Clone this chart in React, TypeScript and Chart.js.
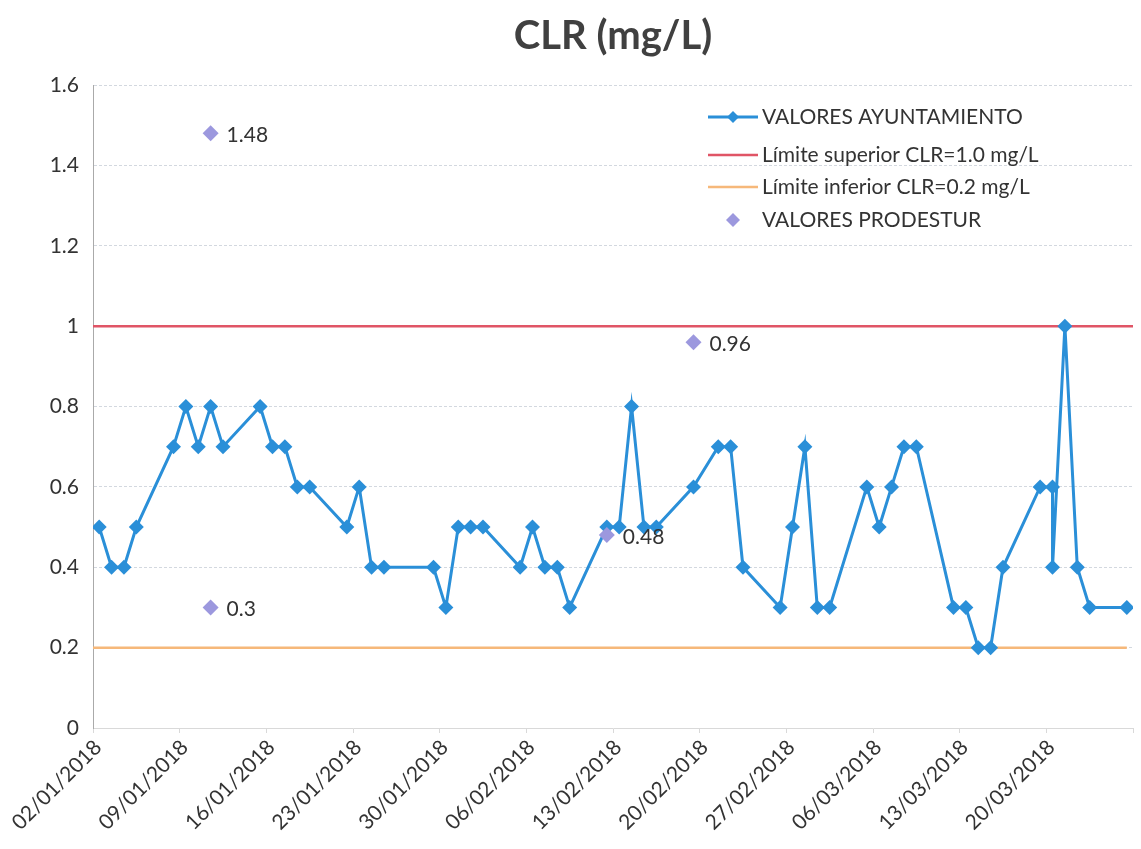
import React, { useEffect, useRef } from "react";
import { Chart, registerables } from "chart.js";

Chart.register(...registerables);

const START_DATE = "02/01/2018";
const AXIS_DAYS = 84;
const TICK_STEP = 7;

const aytoDates = [
  "02/01/2018", "03/01/2018", "04/01/2018", "05/01/2018", "08/01/2018", "09/01/2018",
  "10/01/2018", "11/01/2018", "12/01/2018", "15/01/2018", "16/01/2018", "17/01/2018",
  "18/01/2018", "19/01/2018", "22/01/2018", "23/01/2018", "24/01/2018", "25/01/2018",
  "29/01/2018", "30/01/2018", "31/01/2018", "01/02/2018", "02/02/2018", "05/02/2018",
  "06/02/2018", "07/02/2018", "08/02/2018", "09/02/2018", "12/02/2018", "13/02/2018",
  "14/02/2018", "15/02/2018", "16/02/2018", "19/02/2018", "21/02/2018", "22/02/2018",
  "23/02/2018", "26/02/2018", "27/02/2018", "28/02/2018", "01/03/2018", "02/03/2018",
  "05/03/2018", "06/03/2018", "07/03/2018", "08/03/2018", "09/03/2018", "12/03/2018",
  "13/03/2018", "14/03/2018", "15/03/2018", "16/03/2018", "19/03/2018", "20/03/2018",
  "20/03/2018", "21/03/2018", "22/03/2018", "23/03/2018", "26/03/2018",
];
const aytoValues = [
  0.5, 0.4, 0.4, 0.5, 0.7, 0.8,
  0.7, 0.8, 0.7, 0.8, 0.7, 0.7,
  0.6, 0.6, 0.5, 0.6, 0.4, 0.4,
  0.4, 0.3, 0.5, 0.5, 0.5, 0.4,
  0.5, 0.4, 0.4, 0.3, 0.5, 0.5,
  0.8, 0.5, 0.5, 0.6, 0.7, 0.7,
  0.4, 0.3, 0.5, 0.7, 0.3, 0.3,
  0.6, 0.5, 0.6, 0.7, 0.7, 0.3,
  0.3, 0.2, 0.2, 0.4, 0.6, 0.6,
  0.4, 1.0, 0.4, 0.3, 0.3,
];

const prodesturDates = ["11/01/2018", "11/01/2018", "12/02/2018", "19/02/2018"];
const prodesturValues = [1.48, 0.3, 0.48, 0.96];

const upperLimit = 1.0;
const lowerLimit = 0.2;

const yTicks = [0, 0.2, 0.4, 0.6, 0.8, 1, 1.2, 1.4, 1.6];

const legendLabels = [
  "VALORES AYUNTAMIENTO",
  "Límite superior CLR=1.0 mg/L",
  "Límite inferior CLR=0.2 mg/L",
  "VALORES PRODESTUR",
];

const BLUE = "#2a8fd8";
const RED = "#e05566";
const ORANGE = "#f6b87a";
const PURPLE = "#9c98de";
const TEXT = "#333333";
const FONT = "Lato, 'Open Sans', sans-serif";

function parseDay(s: string): number {
  const [d, m, y] = s.split("/").map(Number);
  return Date.UTC(y, m - 1, d) / 86400000;
}
const startDay = parseDay(START_DATE);
function dayIndex(s: string): number {
  return parseDay(s) - startDay;
}
function dayLabel(i: number): string {
  const dt = new Date((startDay + i) * 86400000);
  const dd = String(dt.getUTCDate()).padStart(2, "0");
  const mm = String(dt.getUTCMonth() + 1).padStart(2, "0");
  return `${dd}/${mm}/${dt.getUTCFullYear()}`;
}

const dataLabelPlugin = {
  id: "dataLabels",
  afterDatasetsDraw(chart: any) {
    const ctx = chart.ctx;
    const meta = chart.getDatasetMeta(3);
    ctx.save();
    ctx.font = `21px ${FONT}`;
    ctx.fillStyle = TEXT;
    ctx.textAlign = "left";
    ctx.textBaseline = "middle";
    meta.data.forEach((pt: any, i: number) => {
      ctx.fillText(String(prodesturValues[i]), pt.x + 16, pt.y + 2);
    });
    ctx.restore();
  },
};

const customLegendPlugin = {
  id: "customLegend",
  afterDraw(chart: any) {
    const ctx = chart.ctx;
    const x0 = 708;
    const x1 = 758;
    const rows = [117, 155, 187, 220];
    ctx.save();
    ctx.lineCap = "butt";
    ctx.strokeStyle = BLUE;
    ctx.lineWidth = 3;
    ctx.beginPath();
    ctx.moveTo(x0, rows[0]);
    ctx.lineTo(x1, rows[0]);
    ctx.stroke();
    const diamond = (cx: number, cy: number, r: number, color: string) => {
      ctx.fillStyle = color;
      ctx.beginPath();
      ctx.moveTo(cx, cy - r);
      ctx.lineTo(cx + r, cy);
      ctx.lineTo(cx, cy + r);
      ctx.lineTo(cx - r, cy);
      ctx.closePath();
      ctx.fill();
    };
    diamond((x0 + x1) / 2, rows[0], 6, BLUE);
    ctx.strokeStyle = RED;
    ctx.lineWidth = 2.5;
    ctx.beginPath();
    ctx.moveTo(x0, rows[1]);
    ctx.lineTo(x1, rows[1]);
    ctx.stroke();
    ctx.strokeStyle = ORANGE;
    ctx.beginPath();
    ctx.moveTo(x0, rows[2]);
    ctx.lineTo(x1, rows[2]);
    ctx.stroke();
    diamond((x0 + x1) / 2, rows[3], 7, PURPLE);
    ctx.font = `21px ${FONT}`;
    ctx.fillStyle = TEXT;
    ctx.textAlign = "left";
    ctx.textBaseline = "middle";
    legendLabels.forEach((t, i) => ctx.fillText(t, x1 + 4, rows[i]));
    ctx.restore();
  },
};

export default function App() {
  const ref = useRef<HTMLCanvasElement | null>(null);

  useEffect(() => {
    if (!ref.current) return;
    const aytoData = aytoDates.map((d, i) => ({ x: dayIndex(d) + 0.5, y: aytoValues[i] }));
    const prodData = prodesturDates.map((d, i) => ({ x: dayIndex(d) + 0.5, y: prodesturValues[i] }));
    const firstX = aytoData[0].x;
    const lastX = aytoData[aytoData.length - 1].x;

    const chart = new Chart(ref.current, {
      type: "line",
      data: {
        datasets: [
          {
            label: legendLabels[0],
            data: aytoData,
            borderColor: BLUE,
            backgroundColor: BLUE,
            borderWidth: 3,
            pointStyle: "rectRot",
            pointRadius: 7.5,
            pointBorderWidth: 0,
            pointBackgroundColor: BLUE,
            tension: 0,
            order: 1,
          },
          {
            label: legendLabels[1],
            data: [
              { x: 0, y: upperLimit },
              { x: AXIS_DAYS, y: upperLimit },
            ],
            borderColor: RED,
            borderWidth: 2.5,
            pointRadius: 0,
            order: 2,
          },
          {
            label: legendLabels[2],
            data: [
              { x: firstX - 0.5, y: lowerLimit },
              { x: lastX, y: lowerLimit },
            ],
            borderColor: ORANGE,
            borderWidth: 2.5,
            pointRadius: 0,
            order: 3,
          },
          {
            label: legendLabels[3],
            data: prodData,
            showLine: false,
            pointStyle: "rectRot",
            pointRadius: 8,
            pointBorderWidth: 0,
            pointBackgroundColor: PURPLE,
            borderColor: PURPLE,
            backgroundColor: PURPLE,
            order: 0,
          },
        ],
      },
      options: {
        responsive: false,
        animation: false,
        layout: { padding: { left: 0, right: -5, top: 0, bottom: 0 } },
        plugins: {
          legend: { display: false },
          tooltip: { enabled: false },
          title: {
            display: true,
            text: "CLR (mg/L)",
            fullSize: false,
            color: "#404040",
            font: { size: 40, weight: "bold", family: FONT },
            padding: { top: 12, bottom: 25 },
          },
        },
        scales: {
          x: {
            type: "linear",
            min: 0,
            max: AXIS_DAYS,
            afterFit: (s: any) => {
              s.height = 121;
              s.paddingRight = 0;
              s.paddingLeft = 0;
            },
            afterBuildTicks: (s: any) => {
              const t = [];
              for (let v = 0; v <= AXIS_DAYS; v += TICK_STEP) t.push({ value: v });
              s.ticks = t;
            },
            ticks: {
              autoSkip: false,
              maxRotation: 45,
              minRotation: 45,
              color: TEXT,
              font: { size: 21, family: FONT },
              padding: 2,
              labelOffset: 5,
              callback: (v: any) => (Number(v) >= AXIS_DAYS ? "" : dayLabel(Number(v))),
            },
            grid: {
              drawOnChartArea: false,
              drawTicks: true,
              tickLength: 5,
              color: "#d9d9d9",
            },
            border: { color: "#d9d9d9" },
          },
          y: {
            min: 0,
            max: 1.6,
            afterFit: (s: any) => {
              s.width = 93;
            },
            afterBuildTicks: (s: any) => {
              s.ticks = yTicks.map((v) => ({ value: v }));
            },
            ticks: {
              color: TEXT,
              font: { size: 21, family: FONT },
              padding: 14,
              callback: (v: any) => String(Number(Number(v).toFixed(1))),
            },
            grid: { color: "#d3d8df", drawTicks: false, lineWidth: 1 },
            border: { color: "#aaaaaa", dash: [3, 2] },
          },
        },
      },
      plugins: [dataLabelPlugin, customLegendPlugin],
    } as any);

    return () => chart.destroy();
  }, []);

  return (
    <div style={{ position: "absolute", left: 0, top: 0, width: 1141, height: 849, background: "#fff" }}>
      <canvas ref={ref} width={1141} height={849} style={{ display: "block" }} />
    </div>
  );
}
